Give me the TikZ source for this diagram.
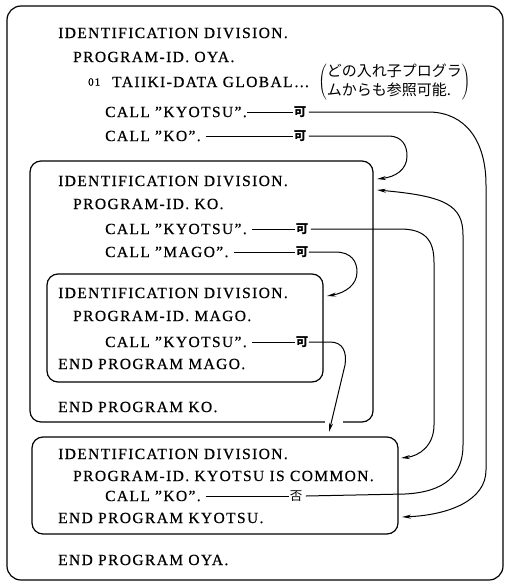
\documentclass[tikz,border=0pt]{standalone}
\usepackage{fontspec}
\setmainfont{Liberation Serif}[LetterSpace=9,FakeBold=0.6]
\newfontfamily\cjk{Noto Sans CJK JP}
\usetikzlibrary{arrows.meta}
\begin{document}
\begin{tikzpicture}[x=1pt,y=-1pt,
  code/.style={anchor=west,inner sep=0pt,font=\fontsize{15.5}{18}\selectfont},
  small/.style={anchor=west,inner sep=0pt,font=\fontsize{11}{12}\selectfont},
  kanji/.style={inner sep=0.5pt,font=\cjk\bfseries\fontsize{12.5}{13}\selectfont},
  frame/.style={draw,line width=1.2pt,rounded corners=11pt},
  dashln/.style={line width=1pt},
  arr/.style={line width=1pt,-{Stealth[length=9pt,width=4pt]}}]
\useasboundingbox (0,0) rectangle (508,584);
% frames
\draw[frame,rounded corners=14pt] (7,6) rectangle (503,580);
\draw[frame] (30,161) rectangle (373,422);
\draw[frame] (47,274) rectangle (323,382);
\draw[frame] (32,437) rectangle (398,534);
\fill[white] (325,418) rectangle (343,426);
% OYA
\node[code] (oid) at (58,33) {IDENTIFICATION DIVISION.};
\node[code] (opid) at (73,57) {PROGRAM-ID. OYA.};
\node[small] (o01) at (88,82) {01};
\node[code] (oglob) at (112,82) {TAIIKI-DATA GLOBAL…};
\node[anchor=west,inner sep=0pt] (onote) at (318,82) {$\left(\vcenter{\hbox{\cjk\fontsize{15}{19}\selectfont\begin{tabular}{@{}l@{}}どの入れ子プログラ\\ムからも参照可能.\end{tabular}}}\right)$};
\node[code] (oc1) at (105,112) {CALL "KYOTSU".};
\node[kanji] (ok1) at (300,112) {可};
\node[code] (oc2) at (105,136) {CALL "KO".};
\node[kanji] (ok2) at (300,136) {可};
% KO
\node[code] (kid) at (58,181) {IDENTIFICATION DIVISION.};
\node[code] (kpid) at (73,204) {PROGRAM-ID. KO.};
\node[code] (kc1) at (105,229) {CALL "KYOTSU".};
\node[kanji] (kk1) at (302,229) {可};
\node[code] (kc2) at (105,252) {CALL "MAGO".};
\node[kanji] (kk2) at (302,252) {可};
% MAGO
\node[code] (mid) at (58,293) {IDENTIFICATION DIVISION.};
\node[code] (mpid) at (73,316) {PROGRAM-ID. MAGO.};
\node[code] (mc1) at (105,342) {CALL "KYOTSU".};
\node[kanji] (mk1) at (302,342) {可};
\node[code] (mend) at (58,364) {END PROGRAM MAGO.};
\node[code] (kend) at (58,407) {END PROGRAM KO.};
% KYOTSU
\node[code] (yid) at (58,454) {IDENTIFICATION DIVISION.};
\node[code] (ypid) at (73,476) {PROGRAM-ID. KYOTSU IS COMMON.};
\node[code] (yc1) at (105,496) {CALL "KO".};
\node[kanji,font=\cjk\fontsize{12.5}{13}\selectfont] (yk1) at (296,496) {否};
\node[code] (yend) at (58,518) {END PROGRAM KYOTSU.};
\node[code] (oend) at (58,560) {END PROGRAM OYA.};
% dash lines
\draw[dashln] (oc1.east) -- (ok1.west);
\draw[dashln] ([xshift=5pt]oc2.east) -- (ok2.west);
\draw[dashln] ([xshift=5pt]kc1.east) -- (kk1.west);
\draw[dashln] ([xshift=5pt]kc2.east) -- (kk2.west);
\draw[dashln] ([xshift=5pt]mc1.east) -- (mk1.west);
\draw[dashln] ([xshift=5pt]yc1.east) -- (yk1.west);
% targets
\coordinate (tKO1) at (377,179);
\coordinate (tKO2) at (377,190);
\coordinate (tMAGO) at (327,296);
\coordinate (tKYa) at (329,432);
\coordinate (tKYb) at (401,458);
\coordinate (tKYc) at (402,517);
% connectors
\draw[arr] ([xshift=2pt]ok1.east) -- (430,112) .. controls (465,113) and (486,140) .. (486,185) -- (486,470) .. controls (486,500) and (450,515) .. (tKYc);
\draw[arr] ([xshift=2pt]ok2.east) -- (390,136) .. controls (402,137) and (407,145) .. (407,156) .. controls (407,170) and (395,177) .. (tKO1);
\draw[arr] ([xshift=3pt]yk1.east) -- (405,494) .. controls (445,492) and (463,475) .. (463,445) -- (463,235) .. controls (463,205) and (445,196) .. (tKO2);
\draw[arr] ([xshift=2pt]kk1.east) -- (400,229) .. controls (425,229) and (434,240) .. (434,262) -- (434,425) .. controls (434,445) and (420,456) .. (tKYb);
\draw[arr] (kk2.east) -- (335,252) .. controls (352,252) and (357,262) .. (357,272) .. controls (357,285) and (345,293) .. (tMAGO);
\draw[arr] (mk1.east) -- (330,342) .. controls (343,342) and (347,352) .. (345,365) -- (tKYa);
\end{tikzpicture}
\end{document}
